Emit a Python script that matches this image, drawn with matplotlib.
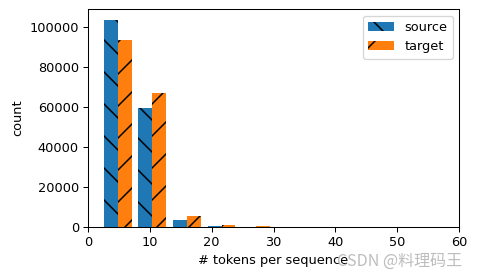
import numpy as np
import matplotlib
matplotlib.use('Agg')
import matplotlib.pyplot as plt

# histogram of sequence lengths (10 bins between min and max length)
bin_edges = np.linspace(2, 58, 11)
source_counts = [103700, 59400, 3500, 330, 25, 8, 3, 1, 0, 1]
target_counts = [93600, 66900, 5500, 680, 110, 20, 6, 2, 1, 1]
legend_labels = ['source', 'target']

DPI = 96
k = 1.29 * 72 / DPI   # scale of default rc sizes to this picture

plt.rcParams.update({
    'font.size': 10 * k,
    'axes.linewidth': 0.8 * k,
    'axes.labelpad': 4 * k,
    'xtick.major.size': 3.5 * k,
    'ytick.major.size': 3.5 * k,
    'xtick.major.width': 0.8 * k,
    'ytick.major.width': 0.8 * k,
    'xtick.major.pad': 3.5 * k,
    'ytick.major.pad': 3.5 * k,
    'patch.linewidth': 1.0 * k,
    'hatch.linewidth': 1.5 * 72 / DPI,
})

fig = plt.figure(figsize=(477 / DPI, 277 / DPI), dpi=DPI)
ax = fig.add_axes([88 / 477, 50.3 / 277, 371 / 477, 217.4 / 277])

centers = (bin_edges[:-1] + bin_edges[1:]) / 2
_, _, patches = ax.hist([centers, centers], bins=bin_edges,
                        weights=[source_counts, target_counts])
for patch in patches[0].patches:
    patch.set_hatch('\\')
for patch in patches[1].patches:
    patch.set_hatch('/')

ax.set_xlim(0, 60)
ax.set_xlabel('# tokens per sequence')
ax.set_ylabel('count')
ax.legend(legend_labels)

# watermark
fig.text(462 / 477, 16 / 277, 'CSDN @料理码王', ha='right', va='center',
         color='#bdbdbd', fontsize=16 * 72 / DPI,
         family=['Noto Sans CJK SC', 'DejaVu Sans'])

fig.savefig('out.png', dpi=DPI)
